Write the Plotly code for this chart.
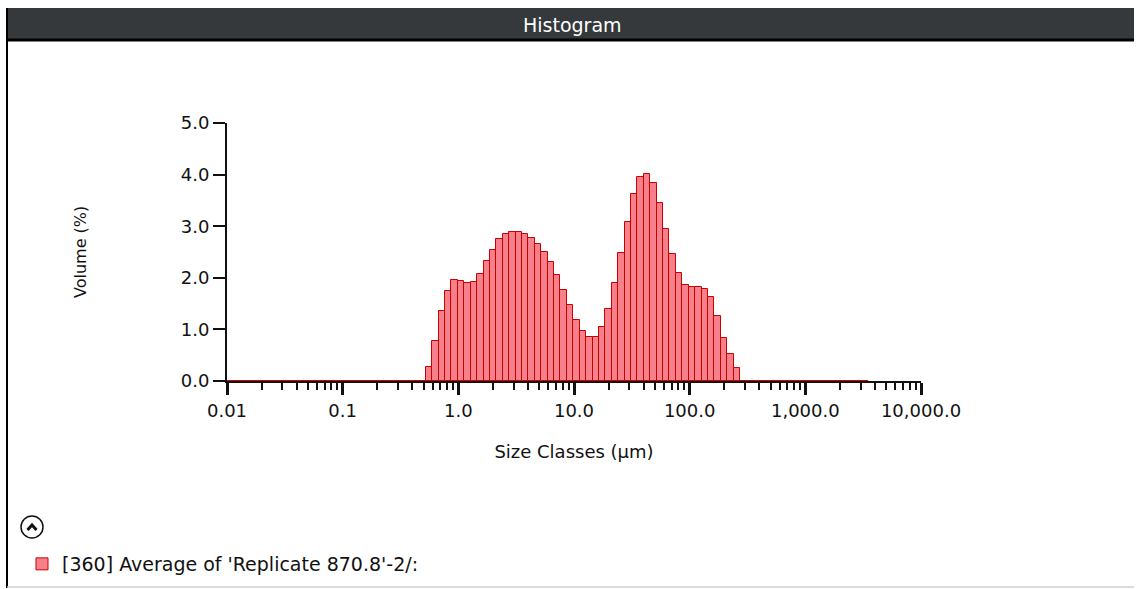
import numpy as np
import plotly.graph_objects as go

# Size classes: 100 log-spaced classes from 0.01 to 3500 µm
size_min_um = 0.01
size_max_um = 3500.0
n_classes = 100

# Volume (%) in each size class (index 0 = smallest class)
volume_pct = (
    [0.0] * 31
    + [0.27, 0.78, 1.35, 1.75, 1.95, 1.94, 1.89, 1.91, 2.08, 2.32,
       2.54, 2.75, 2.85, 2.89, 2.89, 2.84, 2.77, 2.66, 2.50, 2.30,
       2.05, 1.76, 1.47, 1.18, 0.97, 0.86, 0.86, 1.05, 1.40, 1.89,
       2.49, 3.09, 3.63, 3.96, 4.02, 3.84, 3.45, 2.95, 2.46, 2.09,
       1.87, 1.82, 1.82, 1.78, 1.62, 1.26, 0.84, 0.53, 0.25]
    + [0.0] * 20
)

x_tick_values = [0.01, 0.1, 1.0, 10.0, 100.0, 1000.0, 10000.0]
x_tick_labels = ["0.01", "0.1", "1.0", "10.0", "100.0", "1,000.0", "10,000.0"]
y_tick_values = [0.0, 1.0, 2.0, 3.0, 4.0, 5.0]

series_name = "[360] Average of 'Replicate 870.8'-2/:"

# ---- layout geometry (pixels) ----
W, H = 1140, 589
ML, MR, MT, MB = 227, 219, 123, 208
PW, PH = W - ML - MR, H - MT - MB


def px_x(px):
    return (px - ML) / PW


def px_y(py):
    return (H - MB - py) / PH


FONT = "DejaVu Sans"
INK = "#111"

edges = np.geomspace(size_min_um, size_max_um, n_classes + 1)
log_edges = np.log10(edges)
log_centers = (log_edges[:-1] + log_edges[1:]) / 2
log_widths = np.diff(log_edges)

fig = go.Figure()

# zero-volume classes show as a thin line along the baseline
fig.add_trace(go.Scatter(
    x=log_edges, y=[0.0] * len(log_edges), mode="lines",
    line=dict(color="#D40000", width=1.5),
    showlegend=False, hoverinfo="skip",
))

fig.add_trace(go.Bar(
    x=log_centers, y=volume_pct, width=log_widths,
    name=series_name,
    marker=dict(color="#F7818A", line=dict(color="#CC0000", width=1)),
))

minor_vals = [np.log10(k * 10.0 ** d) for d in range(-2, 4) for k in range(2, 10)]

fig.update_xaxes(
    range=[np.log10(x_tick_values[0]), np.log10(x_tick_values[-1])],
    tickvals=[np.log10(v) for v in x_tick_values],
    ticktext=x_tick_labels, tickangle=0,
    ticks="outside", ticklen=12, tickwidth=3, tickcolor=INK,
    minor=dict(tickvals=minor_vals, ticks="outside", ticklen=7,
               tickwidth=2, tickcolor=INK),
    showline=True, linewidth=2, linecolor=INK,
    showgrid=False, zeroline=False, automargin=False,
    tickfont=dict(family=FONT, size=18, color=INK),
    title=dict(text="Size Classes (µm)", standoff=26,
               font=dict(family=FONT, size=18, color=INK)),
)
fig.update_yaxes(
    range=[0, 5], tickvals=y_tick_values, tickformat=".1f",
    ticks="outside", ticklen=12, tickwidth=2, tickcolor=INK,
    showline=True, linewidth=2, linecolor=INK,
    showgrid=False, zeroline=False, automargin=False,
    tickfont=dict(family=FONT, size=18, color=INK),
)

shapes = [
    # header bar
    dict(type="rect", xref="paper", yref="paper",
         x0=px_x(6), x1=px_x(1134), y0=px_y(40), y1=px_y(8),
         fillcolor="#35393B", line=dict(width=0), layer="below"),
    dict(type="line", xref="paper", yref="paper",
         x0=px_x(6), x1=px_x(1134), y0=px_y(40), y1=px_y(40),
         line=dict(color="#000", width=3)),
    # panel frame
    dict(type="line", xref="paper", yref="paper",
         x0=px_x(7), x1=px_x(7), y0=px_y(8), y1=px_y(588),
         line=dict(color="#000", width=2)),
    dict(type="line", xref="paper", yref="paper",
         x0=px_x(7), x1=px_x(1134), y0=px_y(587), y1=px_y(587),
         line=dict(color="#CFCFCF", width=1.5)),
    # collapse button
    dict(type="circle", xref="paper", yref="paper",
         x0=px_x(21), x1=px_x(43), y0=px_y(538), y1=px_y(516),
         line=dict(color=INK, width=1.5), fillcolor="white"),
    dict(type="path", xref="paper", yref="paper",
         path=f"M {px_x(27.5)} {px_y(530)} L {px_x(32)} {px_y(525)} L {px_x(36.5)} {px_y(530)}",
         line=dict(color=INK, width=3)),
]

annotations = [
    dict(text="Histogram", xref="paper", yref="paper",
         x=px_x(572), y=px_y(25), xanchor="center", yanchor="middle",
         showarrow=False, font=dict(family=FONT, size=19, color="white")),
    dict(text="Volume (%)", xref="paper", yref="paper",
         x=px_x(80), y=px_y(252), xanchor="center", yanchor="middle",
         textangle=-90, showarrow=False,
         font=dict(family=FONT, size=16, color=INK)),
]

fig.update_layout(
    width=W, height=H,
    margin=dict(l=ML, r=MR, t=MT, b=MB, autoexpand=False),
    paper_bgcolor="white", plot_bgcolor="white",
    bargap=0,
    shapes=shapes,
    annotations=annotations,
    showlegend=True,
    legend=dict(xref="container", yref="container",
                x=22 / W, y=1 - 564 / H, xanchor="left", yanchor="middle",
                font=dict(family=FONT, size=19, color=INK),
                bgcolor="rgba(0,0,0,0)"),
)

fig.write_html("out.html")
